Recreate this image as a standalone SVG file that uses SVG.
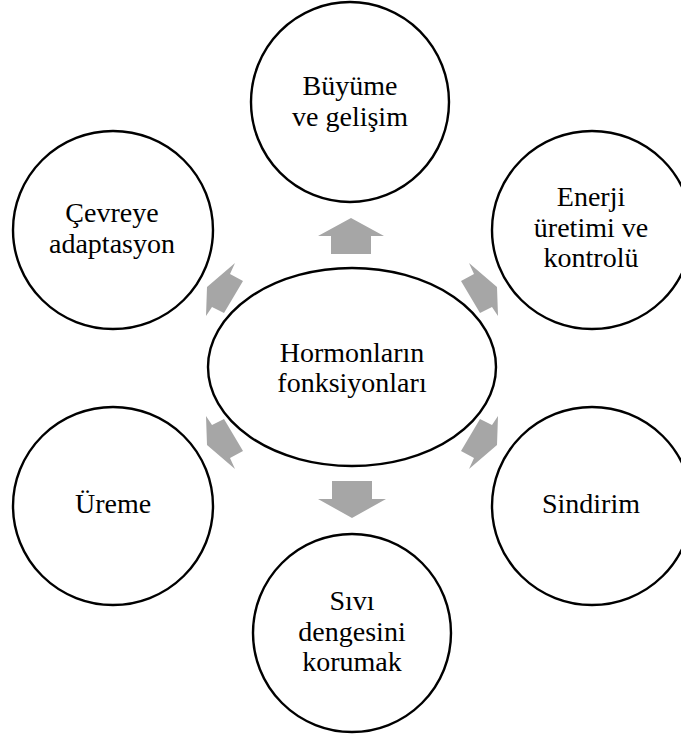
<svg xmlns="http://www.w3.org/2000/svg" width="681" height="734" viewBox="0 0 681 734">
<style>
.node ellipse{fill:#ffffff;stroke:#000000;stroke-width:2.4}
.node text{font-size:28px;fill:#000000;text-anchor:middle}
.arr{fill:#a6a6a6;stroke:none}
</style>
<rect width="681" height="734" fill="#ffffff"/>
<g id="connectors">
<polygon class="arr" points="351,218 384,236 371,236 371,254 331,254 331,236 318,236"/>
<polygon class="arr" points="332,481 372,481 372,499 386,499 352,518 318,499 332,499"/>
<polygon class="arr" points="207,287 235,263 230,274 243,281 224,313 212,307 206,316"/>
<polygon class="arr" points="497,287 469,263 474,274 461,281 480,313 492,307 498,316"/>
<polygon class="arr" points="207,445 235,469 230,458 243,451 224,419 212,425 206,416"/>
<polygon class="arr" points="497,445 469,469 474,458 461,451 480,419 492,425 498,416"/>
</g>
<g font-family="Liberation Serif, DejaVu Serif, serif">
<g id="center" class="node">
<ellipse cx="352" cy="367" rx="144" ry="99"/>
<text x="352" y="362">Hormonların</text>
<text x="352" y="392">fonksiyonları</text>
</g>
<g id="buyume" class="node">
<ellipse cx="350" cy="102" rx="99" ry="100"/>
<text x="350" y="95">Büyüme</text>
<text x="350" y="126">ve gelişim</text>
</g>
<g id="enerji" class="node">
<ellipse cx="592" cy="230" rx="100" ry="99"/>
<text x="591" y="206">Enerji</text>
<text x="591" y="237">üretimi ve</text>
<text x="591" y="267">kontrolü</text>
</g>
<g id="sindirim" class="node">
<ellipse cx="592" cy="506" rx="100" ry="99"/>
<text x="591" y="513">Sindirim</text>
</g>
<g id="sivi" class="node">
<ellipse cx="352" cy="633" rx="99" ry="99"/>
<text x="352" y="610">Sıvı</text>
<text x="352" y="641">dengesini</text>
<text x="352" y="671">korumak</text>
</g>
<g id="ureme" class="node">
<ellipse cx="113" cy="506" rx="100" ry="99"/>
<text x="113" y="513">Üreme</text>
</g>
<g id="cevreye" class="node">
<ellipse cx="113" cy="230" rx="100" ry="99"/>
<text x="112" y="222">Çevreye</text>
<text x="112" y="253">adaptasyon</text>
</g>
</g>
</svg>
